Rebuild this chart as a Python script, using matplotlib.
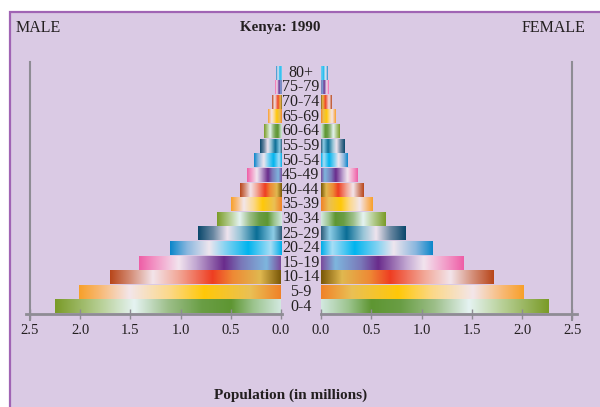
import numpy as np
import matplotlib
matplotlib.use('Agg')
import matplotlib.pyplot as plt
from matplotlib.colors import LinearSegmentedColormap
from matplotlib.patches import Rectangle

# Kenya 1990 population pyramid (millions)
ages = ['0-4', '5-9', '10-14', '15-19', '20-24', '25-29', '30-34', '35-39', '40-44',
        '45-49', '50-54', '55-59', '60-64', '65-69', '70-74', '75-79', '80+']
male = [2.25, 2.01, 1.70, 1.41, 1.11, 0.83, 0.64, 0.50, 0.41,
        0.34, 0.27, 0.21, 0.17, 0.13, 0.09, 0.06, 0.05]
female = [2.26, 2.01, 1.71, 1.42, 1.11, 0.84, 0.64, 0.51, 0.42,
          0.36, 0.26, 0.23, 0.18, 0.14, 0.10, 0.07, 0.06]
ticks = [0.0, 0.5, 1.0, 1.5, 2.0, 2.5]

# gradient stops, 0 = centre of pyramid, 1 = outer end of the bar
gradients = [
    [(0, '#D2E8DF'), (0.12, '#9CC48E'), (0.22, '#5E9632'), (0.35, '#6A9E45'),
     (0.5, '#9DBF8A'), (0.65, '#E5F3F2'), (0.8, '#B7CF95'), (1.0, '#7A9B28')],
    [(0, '#F08228'), (0.15, '#EAC055'), (0.38, '#FFC808'), (0.55, '#FCD888'),
     (0.75, '#F3E6EA'), (0.9, '#F8B872'), (1.0, '#F7A02A')],
    [(0, '#7A5808'), (0.12, '#E0B850'), (0.28, '#EE8A35'), (0.4, '#EE3E22'),
     (0.6, '#F2A898'), (0.75, '#F3E4EA'), (0.88, '#D48E78'), (1.0, '#B8461A')],
    [(0, '#7A4C9C'), (0.1, '#7EB6DE'), (0.28, '#7A78B8'), (0.4, '#6A2C8C'),
     (0.6, '#C2A8D2'), (0.72, '#F2E4EE'), (0.9, '#F290C2'), (1.0, '#EE5EA6')],
    [(0, '#00ADE8'), (0.1, '#A8DEF6'), (0.3, '#00B4EE'), (0.5, '#80D2F2'),
     (0.65, '#EFE6EE'), (0.85, '#88B6DE'), (1.0, '#0A86CA')],
    [(0, '#2E5C7A'), (0.1, '#8ECDE6'), (0.3, '#0A6E96'), (0.5, '#9AC6D8'),
     (0.65, '#EFE4EE'), (0.82, '#6A88A2'), (1.0, '#0A486C')],
]
cmaps = [LinearSegmentedColormap.from_list('g%d' % i, g) for i, g in enumerate(gradients)]

bg = '#DACAE4'
grey = '#8E8C94'
txt = '#231F20'
serif = 'Liberation Serif'

W, H = 600, 407
fig = plt.figure(figsize=(6, 4.07), dpi=100)
fig.patch.set_facecolor('white')
fig.add_artist(Rectangle((10 / W, -0.1), 1.1, (H - 12) / H + 0.1, transform=fig.transFigure,
                         facecolor=bg, edgecolor='#A064B4', lw=1.6, zorder=-10))

bottom = (H - 314) / H
height = 252 / H
axl = fig.add_axes([26 / W, bottom, 256 / W, height])
axr = fig.add_axes([321 / W, bottom, 256 / W, height])

grad = np.linspace(0, 1, 256).reshape(1, -1)
bh = 0.93
for ax, vals in [(axl, male), (axr, female)]:
    ax.set_facecolor('none')
    for i, v in enumerate(vals):
        ax.imshow(grad, cmap=cmaps[i % 6], extent=(0, v, i - bh / 2, i + bh / 2),
                  aspect='auto', interpolation='bilinear')
    ax.set_ylim(-0.5, 16.74)
    for s in ['top', 'left', 'right']:
        ax.spines[s].set_visible(False)
    ax.spines['bottom'].set_color(grey)
    ax.spines['bottom'].set_linewidth(2)
    ax.set_yticks([])
    ax.set_xticks(ticks)
    ax.set_xticklabels(['%.1f' % t for t in ticks], fontfamily=serif, fontsize=10.5, color=txt)
    ax.tick_params(axis='x', direction='inout', length=7, width=1, color=grey, pad=4)
    ax.axvline(2.5, ymin=-0.025, ymax=1, color=grey, lw=1.5, clip_on=False)

axl.set_xlim(2.54, -0.01)
axr.set_xlim(0, 2.545)

for i, a in enumerate(ages):
    axr.text(-0.2, i, a, ha='center', va='center', fontfamily=serif, fontsize=11.5,
             color=txt, clip_on=False)

fig.text(16 / W, 1 - 28 / H, 'MALE', ha='left', va='center', fontfamily=serif, fontsize=11.5, color=txt)
fig.text(585 / W, 1 - 28 / H, 'FEMALE', ha='right', va='center', fontfamily=serif, fontsize=11.5, color=txt)
fig.text(280 / W, 1 - 28 / H, 'Kenya: 1990', ha='center', va='center', fontfamily=serif,
         fontsize=10.8, fontweight='bold', color=txt)
fig.text(291 / W, 1 - 395 / H, 'Population (in millions)', ha='center', va='center',
         fontfamily=serif, fontsize=11, fontweight='bold', color=txt)

fig.savefig('out.png', dpi=100)
